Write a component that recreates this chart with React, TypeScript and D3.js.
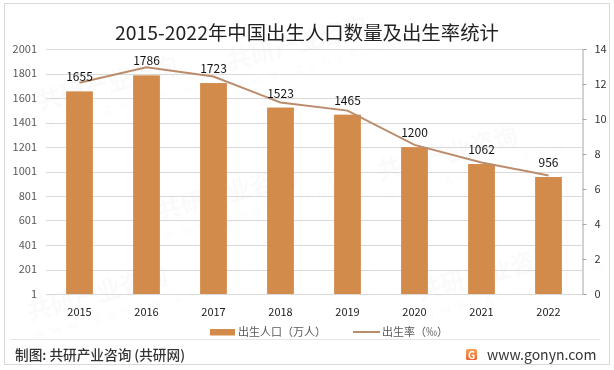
import React, { useEffect, useRef } from 'react';
import * as d3 from 'd3';

const years = ['2015', '2016', '2017', '2018', '2019', '2020', '2021', '2022'];
const births = [1655, 1786, 1723, 1523, 1465, 1200, 1062, 956];
const birthRate = [12.07, 12.95, 12.43, 10.94, 10.48, 8.52, 7.52, 6.77];
const leftTicks = [1, 201, 401, 601, 801, 1001, 1201, 1401, 1601, 1801, 2001];
const rightTicks = [0, 2, 4, 6, 8, 10, 12, 14];

const W = 614, H = 370;
const FONT = '"Noto Sans CJK SC", "Noto Sans", sans-serif';

const App = () => {
  const ref = useRef<SVGSVGElement>(null);

  useEffect(() => {
    const svg = d3.select(ref.current);
    svg.selectAll('*').remove();

    const margin = { left: 46, right: 32, top: 49, bottom: 76 };
    const x0 = margin.left, x1 = W - margin.right;
    const y0 = H - margin.bottom, y1 = margin.top;

    svg.append('rect').attr('width', W).attr('height', H).attr('fill', '#fff');
    svg.append('rect')
      .attr('x', 4.5).attr('y', 3.5).attr('width', 605).attr('height', 361)
      .attr('fill', 'none').attr('stroke', '#d9d9d9');

    // faint watermarks
    const wm = svg.append('g').attr('fill', '#000').attr('opacity', 0.022)
      .attr('font-family', FONT).attr('font-weight', 'bold');
    [[40, 110], [230, 70], [160, 220], [380, 180], [420, 300], [30, 320]].forEach(([x, y]) => {
      const g = wm.append('g').attr('transform', `translate(${x},${y}) rotate(-15)`);
      g.append('text').attr('font-size', 24).text('共研产业咨询');
      g.append('text').attr('y', 20).attr('font-size', 13).attr('font-weight', 'normal')
        .attr('letter-spacing', 7).text('www.gonyn.com');
    });

    svg.append('text')
      .attr('x', 307).attr('y', 40).attr('text-anchor', 'middle')
      .attr('textLength', 384).attr('lengthAdjust', 'spacingAndGlyphs')
      .attr('font-family', FONT).attr('font-size', 19).attr('fill', '#222')
      .text('2015-2022年中国出生人口数量及出生率统计');

    const x = d3.scaleBand().domain(years).range([x0, x1]).paddingInner(0.6).paddingOuter(0.3);
    const yL = d3.scaleLinear().domain([1, 2001]).range([y0, y1]);
    const yR = d3.scaleLinear().domain([0, 14]).range([y0, y1]);

    // gridlines
    svg.append('g').selectAll('line').data(leftTicks).join('line')
      .attr('x1', x0).attr('x2', x1)
      .attr('y1', d => Math.round(yL(d)) + 0.5).attr('y2', d => Math.round(yL(d)) + 0.5)
      .attr('stroke', '#d9d9d9');

    // left axis labels
    svg.append('g').selectAll('text').data(leftTicks).join('text')
      .attr('x', 37).attr('y', d => yL(d)).attr('dy', '0.35em')
      .attr('text-anchor', 'end').attr('font-family', FONT).attr('font-size', 11)
      .attr('fill', '#595959').text(d => d);

    // right axis
    const rAxis = svg.append('g').attr('transform', `translate(${x1 + 0.5},0)`)
      .call(d3.axisRight(yR).tickValues(rightTicks).tickSize(4).tickPadding(8));
    rAxis.select('.domain').attr('stroke', '#a6a6a6');
    rAxis.selectAll('.tick line').attr('stroke', '#a6a6a6');
    rAxis.selectAll('.tick text').attr('font-family', FONT).attr('font-size', 11).attr('fill', '#333');

    // bars
    svg.append('g').selectAll('rect').data(births).join('rect')
      .attr('x', (d, i) => x(years[i])!)
      .attr('width', x.bandwidth())
      .attr('y', d => yL(d))
      .attr('height', d => y0 - yL(d))
      .attr('fill', '#d38b4b');

    // line
    const line = d3.line<number>()
      .x((d, i) => x(years[i])! + x.bandwidth() / 2)
      .y(d => yR(d));
    svg.append('path').datum(birthRate)
      .attr('d', line).attr('fill', 'none')
      .attr('stroke', '#bb8c6c').attr('stroke-width', 2);

    // bar labels
    svg.append('g').selectAll('text').data(births).join('text')
      .attr('x', (d, i) => x(years[i])! + x.bandwidth() / 2)
      .attr('y', d => yL(d) - 10)
      .attr('text-anchor', 'middle').attr('font-family', FONT).attr('font-size', 12)
      .attr('fill', '#111').text(d => d);

    // x labels
    svg.append('g').selectAll('text').data(years).join('text')
      .attr('x', d => x(d)! + x.bandwidth() / 2).attr('y', 316)
      .attr('text-anchor', 'middle').attr('font-family', FONT).attr('font-size', 11)
      .attr('fill', '#222').text(d => d);

    // legend
    const lg = svg.append('g').attr('font-family', FONT).attr('font-size', 11).attr('fill', '#595959');
    lg.append('rect').attr('x', 210).attr('y', 329).attr('width', 25).attr('height', 6.5).attr('fill', '#d38b4b');
    lg.append('text').attr('x', 238).attr('y', 336).text('出生人口（万人）');
    lg.append('line').attr('x1', 353).attr('x2', 380).attr('y1', 332).attr('y2', 332)
      .attr('stroke', '#bb8c6c').attr('stroke-width', 2);
    lg.append('text').attr('x', 382).attr('y', 336).text('出生率（‰）');

    // footer
    svg.append('line').attr('x1', 10).attr('x2', 600).attr('y1', 339.5).attr('y2', 339.5)
      .attr('stroke', '#e6e6e6');
    svg.append('text').attr('x', 15).attr('y', 360)
      .attr('textLength', 170).attr('lengthAdjust', 'spacingAndGlyphs')
      .attr('font-family', FONT).attr('font-size', 13.5).attr('font-weight', 500).attr('fill', '#333')
      .text('制图: 共研产业咨询 (共研网)');
    const grad = svg.append('defs').append('linearGradient').attr('id', 'lg1')
      .attr('x1', 0).attr('y1', 0).attr('x2', 0).attr('y2', 1);
    grad.append('stop').attr('offset', 0).attr('stop-color', '#f5a25a');
    grad.append('stop').attr('offset', 1).attr('stop-color', '#e9672e');
    const logo = svg.append('g').attr('transform', 'translate(466,349)');
    logo.append('rect').attr('width', 11).attr('height', 11).attr('rx', 1.5).attr('fill', 'url(#lg1)');
    logo.append('text').attr('x', 5.5).attr('y', 9.5).attr('text-anchor', 'middle')
      .attr('font-family', FONT).attr('font-size', 10).attr('font-weight', 'bold').attr('fill', '#fff').text('G');
    svg.append('text').attr('x', 487).attr('y', 360)
      .attr('font-family', FONT).attr('font-size', 14).attr('fill', '#333')
      .text('www.gonyn.com');
  }, []);

  return <svg ref={ref} width={W} height={H} style={{ position: 'absolute', left: 0, top: 0 }} />;
};

export default App;
